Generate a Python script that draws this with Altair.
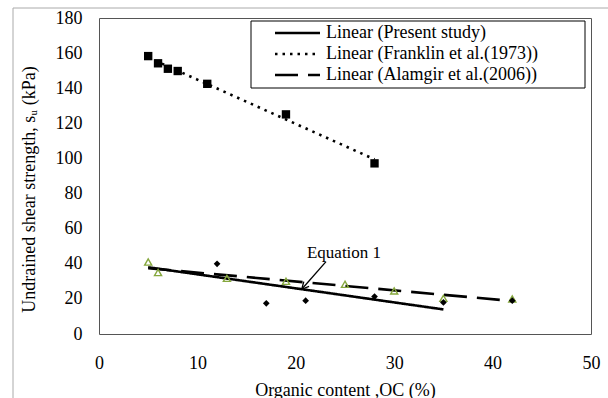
import altair as alt
import pandas as pd

# ---- data ----
oc_present = [12, 17, 21, 28, 35, 42]
su_present = [40, 17.5, 19, 21.3, 18, 19]

oc_franklin = [5, 6, 7, 8, 11, 19, 28]
su_franklin = [158.3, 154.2, 151.1, 149.8, 142.5, 125.1, 97.2]

oc_alamgir = [5, 6, 13, 19, 25, 30, 35, 42]
su_alamgir = [41, 35, 31.7, 30, 28.3, 24.5, 20.3, 20]

series_names = ["Linear (Present study)", "Linear (Franklin et al.(1973))", "Linear (Alamgir et al.(2006))"]
trend_x_start = [5, 5, 5]
trend_x_end = [35, 28, 42]
trend_y_start = [38, 157.5, 37.5]
trend_y_end = [14, 99.5, 18.8]

annot_text = ["Equation 1"]
annot_x = [24.9]
annot_y = [46.3]
arrow_x = [23.07, 20.6]
arrow_y = [41.2, 25.5]

x_ticks = [0, 10, 20, 30, 40, 50]
y_ticks = [0, 20, 40, 60, 80, 100, 120, 140, 160, 180]

FONT = "Liberation Serif"

# ---- tables ----
pts_present = pd.DataFrame({"oc": oc_present, "su": su_present})
pts_franklin = pd.DataFrame({"oc": oc_franklin, "su": su_franklin})
pts_alamgir = pd.DataFrame({"oc": oc_alamgir, "su": su_alamgir})

trend_rows = []
for i, n in enumerate(series_names):
    trend_rows.append({"series": n, "oc": trend_x_start[i], "su": trend_y_start[i], "ord": 0})
    trend_rows.append({"series": n, "oc": trend_x_end[i], "su": trend_y_end[i], "ord": 1})
trend = pd.DataFrame(trend_rows)

dash_scale = alt.Scale(domain=series_names, range=[[1, 0], [2.5, 5], [23, 10]])

xs = alt.Scale(domain=[0, 50], nice=False)
ys = alt.Scale(domain=[0, 180], nice=False)

x_axis = alt.Axis(values=x_ticks, title="Organic content ,OC (%)",
                  labelFont=FONT, labelFontSize=18, labelFlush=False, labelOverlap=False,
                  labelPadding=20, titleX=246, titleY=56, titleBaseline="middle")
y_axis = alt.Axis(values=y_ticks, title="Undrained shear strength, sᵤ (kPa)",
                  labelFont=FONT, labelFontSize=18, labelFlush=False, labelOverlap=False,
                  labelPadding=17, titleX=-70, titleY=171, titleBaseline="middle", titleAngle=-90)

X = alt.X("oc:Q", scale=xs, axis=x_axis)
Y = alt.Y("su:Q", scale=ys, axis=y_axis)

lines = alt.Chart(trend).mark_line(color="black", strokeWidth=2.6, strokeCap="butt").encode(
    x=X, y=Y,
    strokeDash=alt.StrokeDash("series:N", scale=dash_scale, legend=None),
    detail="series:N",
    order="ord:Q",
)

sq = alt.Chart(pts_franklin).mark_point(shape="square", filled=True, color="black", size=70, opacity=1).encode(
    x=X, y=Y)
dia = alt.Chart(pts_present).mark_point(shape="diamond", filled=True, color="black", size=45, opacity=1).encode(
    x=X, y=Y)
tri = alt.Chart(pts_alamgir).mark_point(shape="triangle-up", filled=False, color="#86a83e", size=50,
                                        strokeWidth=1.4, opacity=1).encode(x=X, y=Y)

annot = alt.Chart(pd.DataFrame({"t": annot_text, "oc": annot_x, "su": annot_y})).mark_text(
    font=FONT, fontSize=17, color="black", baseline="middle", align="center").encode(
    x=X, y=Y, text="t:N")
arrow_df = pd.DataFrame({"oc": arrow_x, "su": arrow_y, "ord": [0, 1]})
arrow_line = alt.Chart(arrow_df).mark_line(color="black", strokeWidth=1.3).encode(
    x=X, y=Y, order="ord:Q")
arrow_head = alt.Chart(arrow_df.iloc[[1]]).mark_point(shape="M-0.5,1L0,0L0.5,1", filled=False, color="black",
                                                      size=200, strokeWidth=1.3, angle=222, opacity=1).encode(
    x=X, y=Y)

main = alt.layer(lines, sq, tri, dia, arrow_line, arrow_head, annot)

# ---- legend (boxed, inside plot top-right) ----
leg_df = pd.DataFrame({"series": series_names})
leg_box = alt.Chart(leg_df.iloc[[0]]).mark_rect(fill="white", stroke="black", strokeWidth=1).encode(
    x=alt.value(152), x2=alt.value(486), y=alt.value(3), y2=alt.value(70))
leg_y = alt.Y("series:N", scale=alt.Scale(type="point", domain=series_names, range=[15, 57], padding=0), axis=None)
leg_rule = alt.Chart(leg_df).mark_rule(color="black", strokeWidth=2.6, strokeCap="butt").encode(
    x=alt.value(176), x2=alt.value(221), y=leg_y,
    strokeDash=alt.StrokeDash("series:N", scale=dash_scale, legend=None))
leg_text = alt.Chart(leg_df).mark_text(font=FONT, fontSize=18, align="left", baseline="middle", color="black").encode(
    x=alt.value(227), y=leg_y, text="series:N")
legend = alt.layer(leg_box, leg_rule, leg_text)

# ---- outer frame ----
frame_left = alt.Chart(leg_df.iloc[[0]]).mark_rule(color="#aaaaaa", strokeWidth=1).encode(
    x=alt.value(-86), y=alt.value(-10), y2=alt.value(400))
frame_top = alt.Chart(leg_df.iloc[[0]]).mark_rule(color="#aaaaaa", strokeWidth=1).encode(
    x=alt.value(-86), x2=alt.value(530), y=alt.value(-10))
frame = alt.layer(frame_left, frame_top)

chart = alt.layer(main, legend, frame).resolve_scale(y="independent").properties(
    width=492, height=316,
    autosize=alt.AutoSizeParams(type="none"),
    padding={"left": 99, "top": 18, "right": 17, "bottom": 64},
    background="white",
).configure_view(stroke="#555555", strokeWidth=1).configure_axis(
    domain=False, ticks=False, grid=False,
    labelFont=FONT, labelFontSize=18, labelColor="black",
    titleFont=FONT, titleFontSize=18, titleColor="black", titleFontWeight="normal",
)

chart.save("out.html", embed_options={"renderer": "svg", "actions": False})
